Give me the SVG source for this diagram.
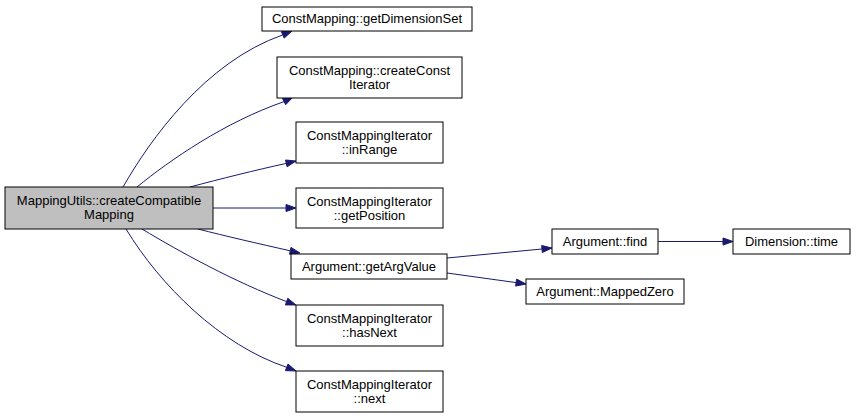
<svg xmlns="http://www.w3.org/2000/svg" width="856" height="416" viewBox="0 0 856 416">
<style>
.n rect{fill:#fff;stroke:#000;stroke-width:1}
.n.cur rect{fill:#bfbfbf}
.n text{font-family:"Liberation Sans",Arial,sans-serif;font-size:13px;text-anchor:middle;fill:#000}
.e path{fill:none;stroke:#191970;stroke-width:1}
.e polygon{fill:#191970;stroke:#191970;stroke-width:1}
</style>
<rect width="856" height="416" fill="#fff"/>
<g id="edges" class="e">
<path d="M123,187 C150,140 205,62 282.8,34.9"/>
<polygon points="292,31 284.2,38.1 281.4,31.7"/>
<path d="M137,187 C170,160 225,122 284.1,101.6"/>
<polygon points="293,97 285.7,104.7 282.5,98.5"/>
<path d="M190,187 C220,179 256,170 286.3,163.4"/>
<polygon points="296,161 287.1,166.8 285.5,160"/>
<path d="M213,208 L286,208"/>
<polygon points="296,208 286,211.5 286,204.5"/>
<path d="M198,229 C225,236 260,244 290.2,250.8"/>
<polygon points="300,253 289.5,254.2 291,247.4"/>
<path d="M142,229 C180,252 235,282 286.6,301.6"/>
<polygon points="296,305 285.4,304.9 287.8,298.3"/>
<path d="M126,229 C160,285 220,345 286.7,367.3"/>
<polygon points="296,371 285.4,370.6 288,364"/>
<path d="M447,258 L542,249"/>
<polygon points="552,248 542.3,252.5 541.7,245.5"/>
<path d="M447,273 L516.1,282.6"/>
<polygon points="526,284 515.6,286.1 516.6,279.1"/>
<path d="M658,241.5 L723,241.5"/>
<polygon points="733,241.5 723,245 723,238"/>
</g>
<g id="node_createCompatibleMapping" class="n cur">
<rect x="5" y="187" width="208" height="42"/>
<text x="109" y="205">MappingUtils::createCompatible</text>
<text x="109" y="219">Mapping</text>
</g>
<g id="node_getDimensionSet" class="n">
<rect x="262" y="7" width="210" height="24"/>
<text x="367" y="23">ConstMapping::getDimensionSet</text>
</g>
<g id="node_createConstIterator" class="n">
<rect x="277" y="57" width="185" height="41"/>
<text x="369.5" y="75">ConstMapping::createConst</text>
<text x="369.5" y="89">Iterator</text>
</g>
<g id="node_inRange" class="n">
<rect x="296" y="122" width="147" height="41"/>
<text x="369.5" y="140">ConstMappingIterator</text>
<text x="369.5" y="154">::inRange</text>
</g>
<g id="node_getPosition" class="n">
<rect x="296" y="188" width="147" height="40"/>
<text x="369.5" y="206">ConstMappingIterator</text>
<text x="369.5" y="220">::getPosition</text>
</g>
<g id="node_getArgValue" class="n">
<rect x="291" y="254" width="156" height="25"/>
<text x="369" y="271">Argument::getArgValue</text>
</g>
<g id="node_hasNext" class="n">
<rect x="296" y="305" width="147" height="41"/>
<text x="369.5" y="323">ConstMappingIterator</text>
<text x="369.5" y="337">::hasNext</text>
</g>
<g id="node_next" class="n">
<rect x="296" y="371" width="147" height="41"/>
<text x="369.5" y="389">ConstMappingIterator</text>
<text x="369.5" y="403">::next</text>
</g>
<g id="node_find" class="n">
<rect x="552" y="229" width="106" height="25"/>
<text x="605" y="246">Argument::find</text>
</g>
<g id="node_MappedZero" class="n">
<rect x="526" y="279" width="158" height="25"/>
<text x="605" y="296">Argument::MappedZero</text>
</g>
<g id="node_time" class="n">
<rect x="733" y="229" width="117" height="25"/>
<text x="791.5" y="246">Dimension::time</text>
</g>
</svg>
